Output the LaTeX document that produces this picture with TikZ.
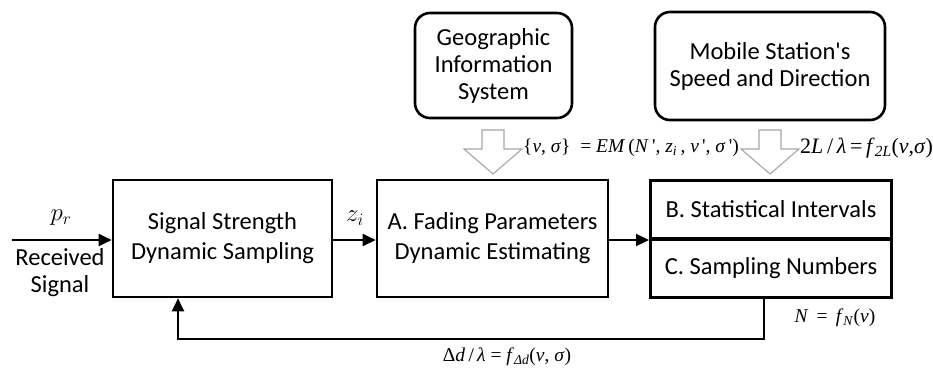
\documentclass[tikz,border=0pt]{standalone}
\usepackage{fontspec}
\setmainfont{Carlito}[Ligatures=ResetAll]
\newfontfamily\tms{Liberation Serif}
\usetikzlibrary{arrows.meta,calc}
\begin{document}
\begin{tikzpicture}[x=1pt,y=-1pt,
  lbl/.style={font=\fontsize{24.5}{30}\selectfont, align=center},
  block/.style={lbl, draw, line width=2.6pt, inner sep=0pt},
  src/.style={lbl, draw, line width=2.6pt, rounded corners=15pt, inner sep=0pt},
  flow/.style={line width=2.2pt, -{Triangle[length=13pt,width=12pt]}},
  eq/.style={font=\tms\fontsize{19.5}{22}\selectfont, inner sep=0pt},
  hollow/.pic={\draw[gray!70, line width=1.1pt, fill=white, line join=miter]
    (-11,0) -- (-11,19) -- (-29,19) -- (0,44) -- (29,19) -- (11,19) -- (11,0) -- cycle;}]
\useasboundingbox (0,0) rectangle (933,373);

% processing blocks
\node[block, minimum width=219pt, minimum height=117pt] (samp) at (222.5,238.5)
  {Signal Strength\\Dynamic Sampling};
\node[block, minimum width=231pt, minimum height=117pt] (est) at (492.5,238.5)
  {A. Fading Parameters\\Dynamic Estimating};
\node[block, line width=3pt, minimum width=241pt, minimum height=58pt] (intv) at (771,209)
  {B. Statistical Intervals};
\node[block, line width=3pt, minimum width=241pt, minimum height=58pt] (nums) at (771,268)
  {C. Sampling Numbers};

% external information sources
\node[src, minimum width=157pt, minimum height=105pt] (gis) at (493.5,65.5)
  {Geographic\\[-3pt]Information\\[-3pt]System};
\node[src, minimum width=230pt, minimum height=108pt] (ms) at (770,66)
  {Mobile Station\textquotesingle s\\[-3pt]Speed and Direction};

% hollow input arrows
\pic at (493,130) {hollow};
\pic at (770,130) {hollow};

% signal path
\coordinate (in) at (12,240);
\draw[flow] (in) -- (samp.west |- in);
\node[font=\fontsize{24}{24}\selectfont] (pr) at (61,218) {$p_r$};
\node[lbl] (rs) at (60,273) {Received\\[-3pt]Signal};
\draw[flow] (samp.east |- in) -- (est.west |- in);
\node[font=\fontsize{24}{24}\selectfont] (zi) at (355,218) {$z_i$};
\draw[flow] (est.east |- in) -- (intv.west |- in);

% feedback loop
\coordinate (fbr) at (764,339);
\coordinate (fbl) at (178,339);
\draw[flow] (nums.south -| fbr) -- (fbr) -- (fbl) -- (samp.south -| fbl);

% formulas
\node[eq, anchor=west] (em) at (523,148)
  {\{\textit{ν}, \textit{σ}\} \ =\ \textit{EM}\,(\textit{N}\,\textquotesingle, \textit{z}\textsubscript{\textit{i}}\,, \textit{ν}\,\textquotesingle, \textit{σ}\,\textquotesingle)};
\node[eq, anchor=west, font=\tms\fontsize{22}{22}\selectfont] (tl) at (800,148)
  {2\textit{L}\,/\,\textit{λ}\,=\,\textit{f}\textsubscript{\textit{2L}}(\textit{ν},\textit{σ})};
\node[eq] (nf) at (835,318)
  {\textit{N} \,=\, \textit{f}\textsubscript{\textit{N}}(\textit{ν})};
\node[eq] (df) at (507,357)
  {Δ\textit{d}\,/\,\textit{λ} = \textit{f}\textsubscript{\textit{Δd}}(\textit{ν}, \textit{σ})};
\end{tikzpicture}
\end{document}
